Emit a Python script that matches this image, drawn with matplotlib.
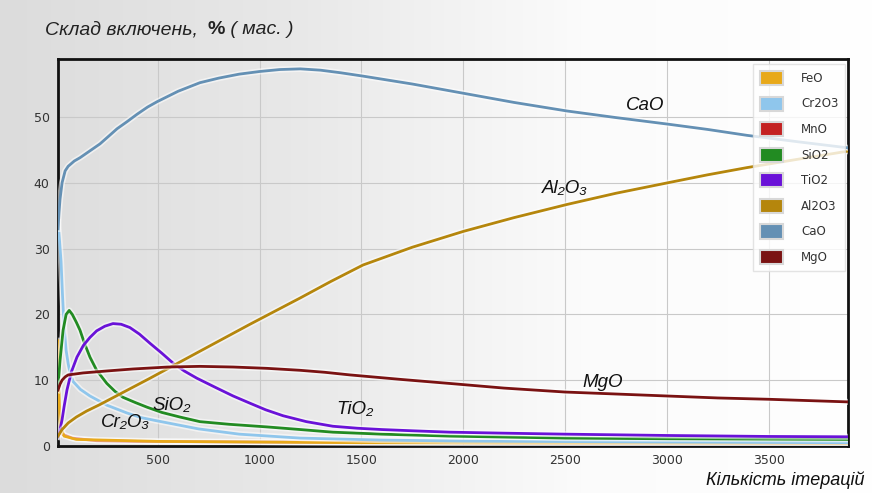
import numpy as np
import matplotlib
matplotlib.use("Agg")
import matplotlib.pyplot as plt
import matplotlib.patheffects as pe
from matplotlib.patches import Patch

# ── data (iterations, % mass) ──
x_cao = [10, 15, 20, 30, 45, 60, 90, 118, 160, 216, 260, 300, 350, 398, 450, 496, 600, 707, 800,
         900, 1000, 1100, 1200, 1300, 1400, 1508, 1750, 2000, 2250, 2510, 2750, 3006, 3200, 3394, 3650, 3890]
y_cao = [33, 35.5, 37.5, 40, 41.8, 42.5, 43.3, 43.8, 44.7, 45.9, 47.1, 48.2, 49.3, 50.4, 51.5, 52.3, 53.9, 55.2, 55.9,
         56.5, 56.9, 57.2, 57.3, 57.1, 56.7, 56.2, 55.0, 53.6, 52.2, 50.9, 49.9, 48.9, 48.1, 47.2, 46.2, 45.3]

x_al2o3 = [10, 30, 60, 100, 150, 216, 462, 707, 953, 1200, 1350, 1508, 1750, 2000, 2250, 2510, 2750,
           3006, 3200, 3394, 3650, 3890]
y_al2o3 = [1.5, 2.5, 3.5, 4.4, 5.3, 6.3, 10.3, 14.4, 18.5, 22.5, 25.0, 27.5, 30.2, 32.6, 34.7, 36.7, 38.4,
           40.0, 41.2, 42.3, 43.6, 44.8]

x_mgo = [10, 20, 30, 45, 60, 133, 250, 378, 550, 707, 870, 1036, 1200, 1320, 1444, 1700, 1935, 2200,
         2500, 2750, 3000, 3250, 3500, 3890]
y_mgo = [8.5, 9.4, 10.0, 10.5, 10.8, 11.1, 11.4, 11.7, 12.0, 12.1, 12.0, 11.8, 11.5, 11.2, 10.8, 10.1, 9.5, 8.8,
         8.2, 7.9, 7.6, 7.3, 7.1, 6.7]

x_tio2 = [10, 20, 30, 40, 54, 75, 103, 135, 167, 200, 240, 280, 320, 363, 410, 462, 520, 575, 630, 692,
          790, 870, 953, 1030, 1115, 1230, 1360, 1480, 1600, 1760, 1935, 2200, 2500, 3000, 3500, 3890]
y_tio2 = [1.4, 2.5, 4.0, 6.0, 8.5, 11.2, 13.5, 15.3, 16.5, 17.5, 18.2, 18.6, 18.5, 18.0, 17.0, 15.6, 14.1, 12.6, 11.4, 10.3,
          8.8, 7.6, 6.5, 5.5, 4.6, 3.7, 3.0, 2.7, 2.5, 2.3, 2.1, 1.95, 1.8, 1.6, 1.45, 1.4]

x_sio2 = [10, 20, 35, 50, 65, 80, 100, 118, 140, 167, 200, 250, 290, 329, 390, 447, 520, 609, 707,
          850, 1036, 1200, 1360, 1600, 1935, 2500, 3000, 3890]
y_sio2 = [9.0, 13.0, 17.6, 20.0, 20.6, 20.0, 18.8, 17.6, 15.6, 13.5, 11.5, 9.5, 8.3, 7.4, 6.6, 5.9, 5.1, 4.4, 3.7,
          3.3, 2.9, 2.5, 2.1, 1.8, 1.5, 1.2, 1.1, 1.0]

x_cr2o3 = [10, 18, 25, 32, 40, 50, 60, 70, 84, 120, 167, 250, 350, 420, 500, 600, 700, 800, 900,
           1050, 1200, 1600, 2000, 3000, 3890]
y_cr2o3 = [34, 31, 28, 23, 18, 14.5, 12.5, 11, 9.8, 8.6, 7.6, 6.2, 5.0, 4.3, 3.8, 3.2, 2.6, 2.2, 1.8,
           1.5, 1.2, 0.9, 0.75, 0.6, 0.5]

x_feo = [10, 15, 20, 40, 100, 500, 1500, 3890]
y_feo = [16.0, 8.0, 3.0, 1.5, 1.0, 0.7, 0.5, 0.4]

x_mno = [10, 30, 80, 200, 400, 1000, 2000, 3890]
y_mno = [2.2, 1.8, 1.2, 0.8, 0.7, 0.6, 0.5, 0.4]

legend_names = ["FeO", "Cr2O3", "MnO", "SiO2", "TiO2", "Al2O3", "CaO", "MgO"]
colors = {
    "FeO": "#e8a91a",
    "Cr2O3": "#8fc6ec",
    "MnO": "#c42222",
    "SiO2": "#228b22",
    "TiO2": "#6a12d8",
    "Al2O3": "#b5860c",
    "CaO": "#6490b4",
    "MgO": "#7a1212",
}

series = [
    ("MnO", x_mno, y_mno),
    ("FeO", x_feo, y_feo),
    ("Cr2O3", x_cr2o3, y_cr2o3),
    ("SiO2", x_sio2, y_sio2),
    ("TiO2", x_tio2, y_tio2),
    ("Al2O3", x_al2o3, y_al2o3),
    ("MgO", x_mgo, y_mgo),
    ("CaO", x_cao, y_cao),
]

fams = ["Liberation Sans", "DejaVu Sans"]

fig = plt.figure(figsize=(8.75, 4.93), dpi=100)

# gray-to-white background gradient
bg = fig.add_axes([0, 0, 1, 1], zorder=-10)
grad = np.linspace(0, 1, 256).reshape(1, -1)
bg.imshow(grad, aspect="auto", cmap=matplotlib.colors.LinearSegmentedColormap.from_list(
    "bg", ["#dcdcdc", "#e8e8e8", "#fbfbfb", "#ffffff"]), extent=[0, 1, 0, 1])
bg.axis("off")

ax = fig.add_axes([58 / 875, 1 - 446 / 493, (848 - 58) / 875, (446 - 59) / 493])
ax.patch.set_alpha(0)

halo = [pe.Stroke(linewidth=4.4, foreground="white", alpha=0.55), pe.Normal()]
for name, xs, ys in series:
    ax.plot(xs, ys, color=colors[name], lw=2.0, solid_joinstyle="round",
            path_effects=halo, zorder=3)

ax.set_xlim(10, 3890)
ax.set_ylim(0, 58.8)
ax.set_xticks([500, 1000, 1500, 2000, 2500, 3000, 3500])
ax.set_yticks([0, 10, 20, 30, 40, 50])
ax.grid(True, color="#c9c9c9", lw=0.8)
ax.set_axisbelow(True)
ax.tick_params(length=0, labelsize=9, labelcolor="#333333", pad=6)
for s in ax.spines.values():
    s.set_linewidth(2.0)
    s.set_color("#111111")

# curve labels
lab = dict(fontsize=13.5, style="italic", color="#111111",
           family=fams, ha="center", va="center", zorder=5)
ax.text(2893, 51.7, "CaO", **lab)
ax.text(2500, 39.1, "Al₂O₃", **lab)
ax.text(2687, 9.7, "MgO", **lab)
ax.text(1469, 5.5, "TiO₂", **lab)
ax.text(570, 6.2, "SiO₂", **lab)
ax.text(339, 3.5, "Cr₂O₃", **lab)

handles = [Patch(facecolor=colors[n], edgecolor="#d8d8d8", lw=1.5) for n in legend_names]
leg = ax.legend(handles, legend_names, loc="upper right", bbox_to_anchor=(0.999, 0.992),
                fontsize=8.5, handlelength=2.0, handleheight=1.45, labelspacing=0.98,
                handletextpad=1.5, borderpad=0.55, borderaxespad=0.2,
                frameon=True, fancybox=False)
leg.get_frame().set_facecolor("white")
leg.get_frame().set_alpha(0.8)
leg.get_frame().set_edgecolor("#dddddd")
leg.set_zorder(6)
for t in leg.get_texts():
    t.set_color("#333333")

# title with bold percent sign
fig.canvas.draw()
r = fig.canvas.get_renderer()
x0 = 45
parts = [("Склад включень, ", "italic", "normal"), ("%", "normal", "bold"),
         (" ( мас. )", "italic", "normal")]
for txt, st, wt in parts:
    t = fig.text(x0 / 875, 1 - 30 / 493, txt, fontsize=14, style=st, weight=wt,
                 color="#222222", family=fams, va="center", ha="left")
    x0 += t.get_window_extent(r).width + (4 if txt.endswith(" ") else 0)

fig.text(865 / 875, 1 - 480 / 493, "Кількість ітерацій", fontsize=13, style="italic",
         color="#111111", family=fams, va="center", ha="right")

fig.savefig("out.png", dpi=100)
